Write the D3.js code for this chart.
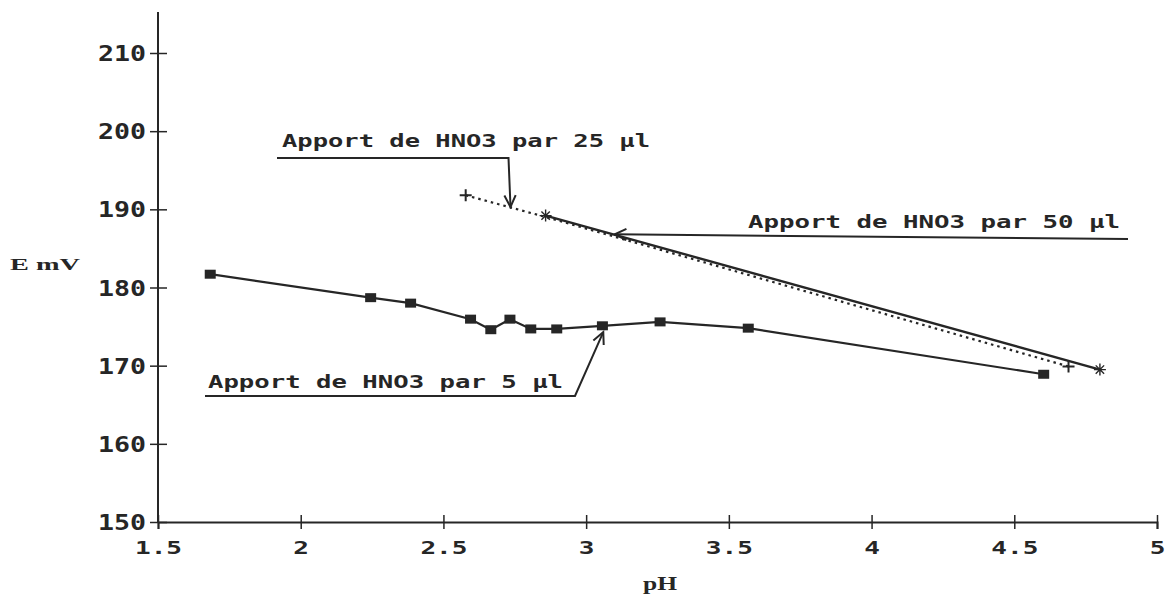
<!DOCTYPE html>
<html><head><meta charset="utf-8">
<script src="https://cdn.jsdelivr.net/npm/d3@7"></script>
<style>
html,body{margin:0;padding:0;background:#fff;}
svg{display:block;}
</style></head>
<body>
<svg id="chart" width="1173" height="600"></svg>
<script>
// ---- data ----
const xTicks = [1.5, 2, 2.5, 3, 3.5, 4, 4.5, 5];
const xTickLabels = ["1.5", "2", "2.5", "3", "3.5", "4", "4.5", "5"];
const yTicks = [150, 160, 170, 180, 190, 200, 210];
const yTickLabels = ["150", "160", "170", "180", "190", "200", "210"];

// Apport de HNO3 par 5 µl (squares, solid)
const ph5 = [1.683, 2.245, 2.385, 2.595, 2.666, 2.733, 2.806, 2.897, 3.057, 3.259, 3.568, 4.603];
const e5  = [181.7, 178.7, 178.0, 175.95, 174.6, 175.95, 174.7, 174.7, 175.1, 175.6, 174.8, 168.9];
// Apport de HNO3 par 25 µl (plus, dotted)
const ph25 = [2.578, 2.86, 4.69];
const e25  = [191.8, 189.0, 169.9];
// Apport de HNO3 par 50 µl (asterisk, solid)
const ph50 = [2.858, 4.80];
const e50  = [189.2, 169.5];

const labels = ["Apport de HNO3 par 25 \u00b5l", "Apport de HNO3 par 50 \u00b5l", "Apport de HNO3 par 5 \u00b5l"];
const arrowTargetPh = [2.735, 3.10, 3.06];
const arrowTargetE  = [190.3, 186.8, 174.3];

// ---- drawing ----
const ink = "#262626";
const svg = d3.select("#chart");
const x = d3.scaleLinear().domain([1.5, 5]).range([158, 1157]);
const y = d3.scaleLinear().domain([150, 210]).range([522, 53]);

// axes
const gx = svg.append("g").attr("transform", `translate(0,${y(150)})`)
  .call(d3.axisBottom(x).tickValues(xTicks).tickFormat((d,i)=>xTickLabels[i]).tickSize(7).tickPadding(0));
gx.select(".domain").attr("stroke", ink).attr("stroke-width", 2);
gx.selectAll(".tick line").attr("y1", -7).attr("y2", 7).attr("stroke", ink).attr("stroke-width", 1.5);
gx.selectAll(".tick text")
  .attr("y", 32).attr("dy", 0)
  .attr("fill", ink)
  .style("font-family", "'DejaVu Sans Mono', monospace")
  .style("font-weight", "bold")
  .style("font-size", "17px")
  .attr("textLength", (d,i)=>xTickLabels[i].length*15.7)
  .attr("lengthAdjust", "spacingAndGlyphs");

const gy = svg.append("g").attr("transform", `translate(${x(1.5)},0)`)
  .call(d3.axisLeft(y).tickValues(yTicks).tickFormat((d,i)=>yTickLabels[i]).tickSize(8).tickPadding(0));
gy.select(".domain").remove();
gy.append("line").attr("x1",0).attr("x2",0).attr("y1",12).attr("y2",y(150))
  .attr("stroke", ink).attr("stroke-width", 2);
gy.selectAll(".tick line").attr("x1", -8).attr("x2", 9).attr("stroke", ink).attr("stroke-width", 1.5);
gy.selectAll(".tick text")
  .attr("x", -12).attr("dy", "0.36em")
  .attr("fill", ink)
  .style("font-family", "'DejaVu Sans Mono', monospace")
  .style("font-weight", "bold")
  .style("font-size", "21px")
  .attr("textLength", 48)
  .attr("lengthAdjust", "spacingAndGlyphs");

// axis titles
svg.append("text").attr("x", 10).attr("y", 270).text("E mV")
  .attr("fill", ink).style("font-family", "'Liberation Serif', serif").style("font-weight","bold")
  .style("font-size","17px").attr("textLength", 70).attr("lengthAdjust","spacingAndGlyphs");
svg.append("text").attr("x", 660).attr("y", 590).attr("text-anchor","middle").text("pH")
  .attr("fill", ink).style("font-family", "'Liberation Serif', serif").style("font-weight","bold")
  .style("font-size","19px").attr("textLength", 34).attr("lengthAdjust","spacingAndGlyphs");

const line = d3.line().x(d=>x(d[0])).y(d=>y(d[1]));
const s5 = ph5.map((p,i)=>[p,e5[i]]);
const s25 = ph25.map((p,i)=>[p,e25[i]]);
const s50 = ph50.map((p,i)=>[p,e50[i]]);

svg.append("path").attr("d", line(s5)).attr("fill","none").attr("stroke",ink).attr("stroke-width",2.2);
svg.append("path").attr("d", line(s25)).attr("fill","none").attr("stroke",ink).attr("stroke-width",2.2)
  .attr("stroke-dasharray","2.5,4");
svg.append("path").attr("d", line(s50)).attr("fill","none").attr("stroke",ink).attr("stroke-width",2.4);

// markers
svg.selectAll(".sq").data(s5).join("rect").attr("class","sq")
  .attr("x", d=>x(d[0])-5.5).attr("y", d=>y(d[1])-4.5).attr("width",11).attr("height",9).attr("fill",ink);
const s25m = [s25[0], s25[s25.length-1]];
svg.selectAll(".plus").data(s25m).join("path").attr("class","plus")
  .attr("d", d=>{const cx=x(d[0]), cy=y(d[1]); return `M${cx-6},${cy}H${cx+6}M${cx},${cy-6}V${cy+6}`;})
  .attr("stroke",ink).attr("stroke-width",2);
svg.selectAll(".ast").data(s50).join("path").attr("class","ast")
  .attr("d", d=>{const cx=x(d[0]), cy=y(d[1]); const r=6;
    return `M${cx-r},${cy}H${cx+r}M${cx-r*0.7},${cy-r*0.7}L${cx+r*0.7},${cy+r*0.7}M${cx-r*0.7},${cy+r*0.7}L${cx+r*0.7},${cy-r*0.7}M${cx},${cy-r}V${cy+r}`;})
  .attr("stroke",ink).attr("stroke-width",1.4);

// annotations
const annFont = g => g.attr("fill", ink).style("font-family","'DejaVu Sans Mono', monospace")
  .style("font-weight","bold").style("font-size","18px").attr("lengthAdjust","spacingAndGlyphs");

function arrowHead(tx, ty, fx, fy){
  const a = Math.atan2(ty-fy, tx-fx), L = 13, w = 0.45;
  return `M${tx-L*Math.cos(a-w)},${ty-L*Math.sin(a-w)}L${tx},${ty}L${tx-L*Math.cos(a+w)},${ty-L*Math.sin(a+w)}`;
}
const ann = svg.append("g").attr("fill","none").attr("stroke",ink).attr("stroke-width",2);

// 25 µl
{
  const tx = x(arrowTargetPh[0]), ty = y(arrowTargetE[0]);
  ann.append("path").attr("d", `M277,158H${tx-2}L${tx},${ty}`);
  ann.append("path").attr("d", arrowHead(tx, ty, tx-2, 158));
  svg.append("text").attr("x", 282).attr("y", 147).text(labels[0]).call(annFont).attr("textLength", 368);
}
// 50 µl
{
  const tx = x(arrowTargetPh[1]), ty = y(arrowTargetE[1]);
  ann.append("path").attr("d", `M1128,239L${tx},${ty}`);
  ann.append("path").attr("d", arrowHead(tx, ty, 1128, 239));
  svg.append("text").attr("x", 748).attr("y", 228).text(labels[1]).call(annFont).attr("textLength", 372);
}
// 5 µl
{
  const tx = x(arrowTargetPh[2]), ty = y(arrowTargetE[2]);
  ann.append("path").attr("d", `M205,396H575L${tx},${ty}`);
  ann.append("path").attr("d", arrowHead(tx, ty, 575, 396));
  svg.append("text").attr("x", 208).attr("y", 388).text(labels[2]).call(annFont).attr("textLength", 355);
}
</script>
</body></html>
